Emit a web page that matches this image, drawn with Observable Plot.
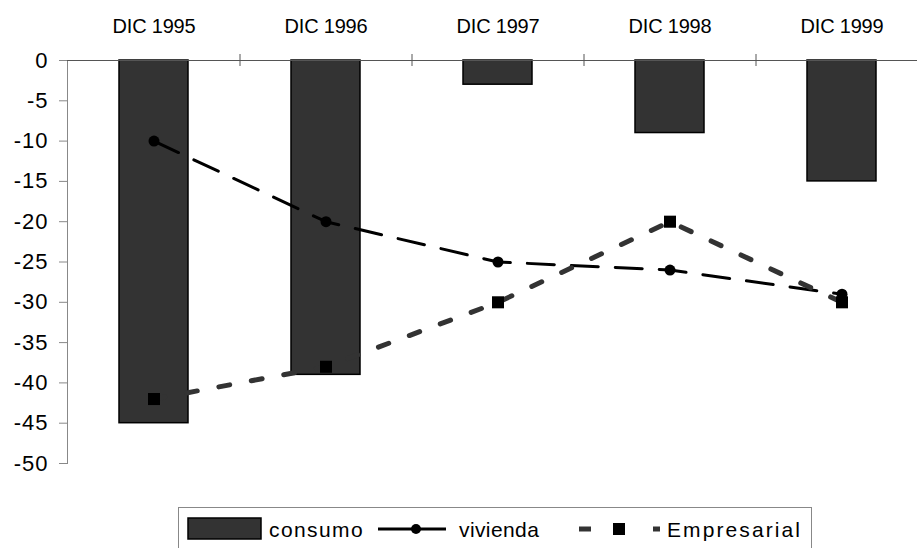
<!DOCTYPE html>
<html><head><meta charset="utf-8">
<script src="https://cdn.jsdelivr.net/npm/d3@7"></script>
<script src="https://cdn.jsdelivr.net/npm/@observablehq/plot@0.6"></script>
<style>
body{margin:0;background:#fff;font-family:"Liberation Sans",Arial,sans-serif;}
#wrap{position:relative;width:917px;height:548px;overflow:hidden;background:#fff}
#legend{position:absolute;left:178px;top:507px;width:634px;height:60px;border:1px solid #888;box-sizing:border-box;background:#fff}
#legend svg{display:block}
#chart g[aria-label="y-axis tick label"] text{font-size:22px;letter-spacing:1px}
#chart g[aria-label="x-axis tick label"] text{font-size:20px;letter-spacing:-0.2px}
</style></head><body>
<div id="wrap"><div id="chart"></div><div id="legend"></div></div>
<script>
const categories = ["DIC 1995", "DIC 1996", "DIC 1997", "DIC 1998", "DIC 1999"];
const consumo = [-45, -39, -3, -9, -15];
const vivienda = [-10, -20, -25, -26, -29];
const empresarial = [-42, -38, -30, -20, -30];
const yTicks = [0, -5, -10, -15, -20, -25, -30, -35, -40, -45, -50];
const seriesNames = ["consumo", "vivienda", "Empresarial"];

const rows = categories.map((c, i) => ({cat: c, consumo: consumo[i], vivienda: vivienda[i], empresarial: empresarial[i]}));

const chart = Plot.plot({
  width: 917, height: 500,
  marginTop: 60, marginBottom: 37, marginLeft: 67, marginRight: 0,
  style: {fontFamily: "'Liberation Sans', Arial, sans-serif", fontSize: "20px", color: "#000", background: "#fff", overflow: "visible"},
  x: {type: "band", domain: categories, range: [67, 927], paddingInner: 0.6, paddingOuter: 0.3},
  y: {domain: [-50, 0], range: [463, 60]},
  marks: [
    Plot.barY(rows, {x: "cat", y1: 0, y2: "consumo", fill: "#333", stroke: "#000", strokeWidth: 1.5}),
    Plot.frame({anchor: "left", stroke: "#888"}),
    Plot.ruleY([0], {stroke: "#555", insetLeft: -8}),
    Plot.ruleX(categories.slice(0, 4), {x: d => d, y1: 0, y2: 0, dx: 86, insetTop: -6, insetBottom: -6, stroke: "#555"}),
    Plot.axisY(yTicks, {tickSize: 8, tickPadding: 11, tickFormat: d => String(d), stroke: "#888", fill: "#000", fontSize: 22, label: null}),
    Plot.axisX({anchor: "top", tickSize: 0, tickPadding: 28, fontSize: 20, label: null, fill: "#000"}),
    Plot.line(rows, {x: "cat", y: "vivienda", stroke: "#000", strokeWidth: 3, strokeDasharray: "27,17"}),
    Plot.line(rows, {x: "cat", y: "empresarial", stroke: "#333", strokeWidth: 5, strokeDasharray: "11,22"}),
    Plot.dot(rows, {x: "cat", y: "vivienda", r: 5.5, fill: "#000"}),
    Plot.dot(rows, {x: "cat", y: "empresarial", symbol: "square", r: 6.8, fill: "#000"})
  ]
});
document.getElementById("chart").appendChild(chart);

const lg = `<svg width="634" height="45" xmlns="http://www.w3.org/2000/svg" font-family="'Liberation Sans', Arial, sans-serif" font-size="21">
  <rect x="9" y="10" width="73" height="21" fill="#333" stroke="#000" stroke-width="1.5"/>
  <text x="90" y="29" letter-spacing="1.4">${seriesNames[0]}</text>
  <line x1="199" y1="21" x2="267" y2="21" stroke="#000" stroke-width="3"/>
  <circle cx="237" cy="21" r="5" fill="#000"/>
  <text x="280" y="29" letter-spacing="0.4">${seriesNames[1]}</text>
  <line x1="400" y1="21" x2="412" y2="21" stroke="#333" stroke-width="5"/>
  <rect x="434" y="15" width="12" height="12" fill="#000"/>
  <line x1="474" y1="21" x2="481" y2="21" stroke="#333" stroke-width="5"/>
  <text x="488" y="29" letter-spacing="2.1">${seriesNames[2]}</text>
</svg>`;
document.getElementById("legend").innerHTML = lg;
</script>
</body></html>
